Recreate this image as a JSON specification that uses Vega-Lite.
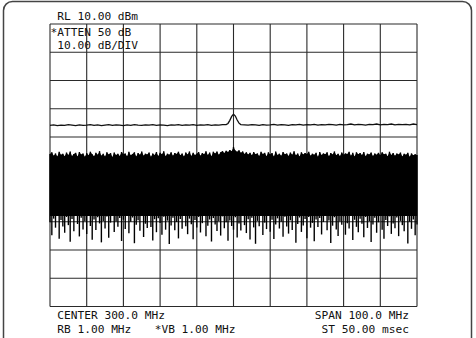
{
"$schema":"https://vega.github.io/schema/vega-lite/v6.json",
"width":476,"height":338,
"autosize":{"type":"none"},
"padding":0,
"background":"white",
"config":{"view":{"stroke":null},"axis":{"disable":true}},
"datasets":{
"vgrid":[{"f":250},{"f":260},{"f":270},{"f":280},{"f":290},{"f":300},{"f":310},{"f":320},{"f":330},{"f":340},{"f":350}],
"hgrid":[{"d":10},{"d":0},{"d":-10},{"d":-20},{"d":-30},{"d":-40},{"d":-50},{"d":-60},{"d":-70},{"d":-80},{"d":-90}],
"trace":[
{"f":250,"d":-25.9},{"f":251,"d":-25.7},{"f":252,"d":-26.0},{"f":253,"d":-25.8},{"f":254,"d":-25.9},{"f":255,"d":-25.6},{"f":256,"d":-25.8},{"f":257,"d":-26.0},{"f":258,"d":-25.7},{"f":259,"d":-25.9},
{"f":260,"d":-25.8},{"f":261,"d":-25.6},{"f":262,"d":-25.9},{"f":263,"d":-25.7},{"f":264,"d":-26.0},{"f":265,"d":-25.8},{"f":266,"d":-25.6},{"f":267,"d":-25.9},{"f":268,"d":-25.7},{"f":269,"d":-25.8},
{"f":270,"d":-26.0},{"f":271,"d":-25.7},{"f":272,"d":-25.9},{"f":273,"d":-25.6},{"f":274,"d":-25.8},{"f":275,"d":-25.9},{"f":276,"d":-25.7},{"f":277,"d":-25.8},{"f":278,"d":-25.6},{"f":279,"d":-25.9},
{"f":280,"d":-25.7},{"f":281,"d":-25.8},{"f":282,"d":-26.0},{"f":283,"d":-25.7},{"f":284,"d":-25.8},{"f":285,"d":-25.6},{"f":286,"d":-25.9},{"f":287,"d":-25.7},{"f":288,"d":-25.8},{"f":289,"d":-25.6},
{"f":290,"d":-25.9},{"f":291,"d":-25.7},{"f":292,"d":-25.8},{"f":293,"d":-25.6},{"f":294,"d":-25.9},{"f":295,"d":-25.7},{"f":296,"d":-25.8},{"f":297,"d":-25.6},{"f":298,"d":-25.6},{"f":298.5,"d":-25.2},
{"f":299,"d":-24.1},{"f":299.5,"d":-22.7},{"f":300,"d":-21.9},{"f":300.5,"d":-22.6},{"f":301,"d":-24.0},{"f":301.5,"d":-25.1},{"f":302,"d":-25.6},{"f":303,"d":-25.7},{"f":304,"d":-25.8},{"f":305,"d":-25.6},
{"f":306,"d":-25.7},{"f":307,"d":-25.9},{"f":308,"d":-25.6},{"f":309,"d":-25.8},{"f":310,"d":-25.7},{"f":311,"d":-25.5},{"f":312,"d":-25.8},{"f":313,"d":-25.6},{"f":314,"d":-25.7},{"f":315,"d":-25.9},
{"f":316,"d":-25.6},{"f":317,"d":-25.7},{"f":318,"d":-25.5},{"f":319,"d":-25.8},{"f":320,"d":-25.6},{"f":321,"d":-25.7},{"f":322,"d":-25.5},{"f":323,"d":-25.8},{"f":324,"d":-25.6},{"f":325,"d":-25.7},
{"f":326,"d":-25.5},{"f":327,"d":-25.6},{"f":328,"d":-25.8},{"f":329,"d":-25.5},{"f":330,"d":-25.7},{"f":331,"d":-25.6},{"f":332,"d":-25.4},{"f":333,"d":-25.7},{"f":334,"d":-25.5},{"f":335,"d":-25.6},
{"f":336,"d":-25.8},{"f":337,"d":-25.5},{"f":338,"d":-25.6},{"f":339,"d":-25.4},{"f":340,"d":-25.7},{"f":341,"d":-25.5},{"f":342,"d":-25.6},{"f":343,"d":-25.4},{"f":344,"d":-25.7},{"f":345,"d":-25.5},
{"f":346,"d":-25.6},{"f":347,"d":-25.5},{"f":348,"d":-25.7},{"f":349,"d":-25.4},{"f":350,"d":-25.6}
],
"noise":[
{"f":250,"h":-36.0,"l":-60.2},{"f":250.5,"h":-35.4,"l":-64.8},{"f":251,"h":-36.6,"l":-58.9},{"f":251.5,"h":-35.8,"l":-62.1},{"f":252,"h":-36.9,"l":-57.6},{"f":252.5,"h":-35.2,"l":-66.0},{"f":253,"h":-36.3,"l":-59.4},{"f":253.5,"h":-35.9,"l":-61.7},{"f":254,"h":-36.8,"l":-63.9},{"f":254.5,"h":-35.5,"l":-58.3},
{"f":255,"h":-36.4,"l":-61.2},{"f":255.5,"h":-35.1,"l":-67.1},{"f":256,"h":-36.7,"l":-59.0},{"f":256.5,"h":-36.0,"l":-63.4},{"f":257,"h":-35.6,"l":-57.9},{"f":257.5,"h":-36.9,"l":-60.8},{"f":258,"h":-35.3,"l":-65.2},{"f":258.5,"h":-36.2,"l":-58.6},{"f":259,"h":-35.8,"l":-62.7},{"f":259.5,"h":-37.0,"l":-59.8},
{"f":260,"h":-35.7,"l":-64.3},{"f":260.5,"h":-36.5,"l":-57.8},{"f":261,"h":-35.2,"l":-61.5},{"f":261.5,"h":-36.1,"l":-66.4},{"f":262,"h":-36.8,"l":-59.2},{"f":262.5,"h":-35.6,"l":-62.9},{"f":263,"h":-36.3,"l":-58.4},{"f":263.5,"h":-35.0,"l":-60.6},{"f":264,"h":-36.6,"l":-67.3},{"f":264.5,"h":-35.9,"l":-59.7},
{"f":265,"h":-36.9,"l":-62.4},{"f":265.5,"h":-35.4,"l":-58.1},{"f":266,"h":-36.2,"l":-65.7},{"f":266.5,"h":-35.7,"l":-60.3},{"f":267,"h":-37.1,"l":-57.5},{"f":267.5,"h":-35.5,"l":-63.6},{"f":268,"h":-36.4,"l":-59.9},{"f":268.5,"h":-35.9,"l":-61.8},{"f":269,"h":-36.7,"l":-58.7},{"f":269.5,"h":-35.3,"l":-66.8},
{"f":270,"h":-36.1,"l":-59.3},{"f":270.5,"h":-35.8,"l":-62.6},{"f":271,"h":-36.8,"l":-57.7},{"f":271.5,"h":-35.2,"l":-64.1},{"f":272,"h":-36.5,"l":-60.0},{"f":272.5,"h":-36.0,"l":-58.5},{"f":273,"h":-35.4,"l":-67.6},{"f":273.5,"h":-36.9,"l":-61.1},{"f":274,"h":-35.7,"l":-59.5},{"f":274.5,"h":-36.3,"l":-63.2},
{"f":275,"h":-35.1,"l":-58.0},{"f":275.5,"h":-36.6,"l":-65.4},{"f":276,"h":-35.9,"l":-60.7},{"f":276.5,"h":-36.2,"l":-62.2},{"f":277,"h":-35.5,"l":-57.4},{"f":277.5,"h":-37.0,"l":-61.9},{"f":278,"h":-35.8,"l":-66.6},{"f":278.5,"h":-36.4,"l":-59.1},{"f":279,"h":-35.3,"l":-63.7},{"f":279.5,"h":-36.7,"l":-58.8},
{"f":280,"h":-35.6,"l":-60.4},{"f":280.5,"h":-36.1,"l":-64.6},{"f":281,"h":-35.0,"l":-58.2},{"f":281.5,"h":-36.8,"l":-62.8},{"f":282,"h":-35.9,"l":-59.6},{"f":282.5,"h":-36.3,"l":-67.9},{"f":283,"h":-35.4,"l":-61.3},{"f":283.5,"h":-36.6,"l":-58.6},{"f":284,"h":-35.7,"l":-63.0},{"f":284.5,"h":-36.0,"l":-60.1},
{"f":285,"h":-35.2,"l":-65.9},{"f":285.5,"h":-36.5,"l":-59.0},{"f":286,"h":-35.8,"l":-62.5},{"f":286.5,"h":-36.9,"l":-57.8},{"f":287,"h":-35.5,"l":-61.6},{"f":287.5,"h":-36.2,"l":-64.4},{"f":288,"h":-35.1,"l":-58.9},{"f":288.5,"h":-36.7,"l":-60.9},{"f":289,"h":-35.6,"l":-66.2},{"f":289.5,"h":-36.4,"l":-59.4},
{"f":290,"h":-35.9,"l":-62.0},{"f":290.5,"h":-35.3,"l":-58.3},{"f":291,"h":-36.6,"l":-63.8},{"f":291.5,"h":-35.7,"l":-60.5},{"f":292,"h":-36.1,"l":-57.6},{"f":292.5,"h":-35.0,"l":-65.1},{"f":293,"h":-36.4,"l":-61.4},{"f":293.5,"h":-35.5,"l":-59.2},{"f":294,"h":-36.8,"l":-67.0},{"f":294.5,"h":-35.2,"l":-58.7},
{"f":295,"h":-35.8,"l":-61.0},{"f":295.5,"h":-35.1,"l":-63.3},{"f":296,"h":-36.3,"l":-59.8},{"f":296.5,"h":-35.4,"l":-64.9},{"f":297,"h":-35.0,"l":-58.1},{"f":297.5,"h":-35.7,"l":-62.3},{"f":298,"h":-34.9,"l":-60.2},{"f":298.5,"h":-35.3,"l":-66.7},{"f":299,"h":-34.6,"l":-59.6},{"f":299.5,"h":-35.0,"l":-61.5},
{"f":300,"h":-33.5,"l":-62.8},{"f":300.5,"h":-34.8,"l":-58.4},{"f":301,"h":-35.2,"l":-65.6},{"f":301.5,"h":-34.7,"l":-60.6},{"f":302,"h":-35.6,"l":-63.1},{"f":302.5,"h":-35.1,"l":-57.9},{"f":303,"h":-36.0,"l":-61.2},{"f":303.5,"h":-35.4,"l":-64.0},{"f":304,"h":-36.2,"l":-59.1},{"f":304.5,"h":-35.6,"l":-66.3},
{"f":305,"h":-36.5,"l":-58.6},{"f":305.5,"h":-35.3,"l":-62.0},{"f":306,"h":-36.1,"l":-67.8},{"f":306.5,"h":-35.8,"l":-59.7},{"f":307,"h":-36.7,"l":-61.6},{"f":307.5,"h":-35.2,"l":-58.0},{"f":308,"h":-36.0,"l":-64.7},{"f":308.5,"h":-35.6,"l":-60.3},{"f":309,"h":-36.8,"l":-62.6},{"f":309.5,"h":-35.4,"l":-57.5},
{"f":310,"h":-36.2,"l":-63.5},{"f":310.5,"h":-35.7,"l":-59.3},{"f":311,"h":-36.9,"l":-66.1},{"f":311.5,"h":-35.1,"l":-61.0},{"f":312,"h":-36.4,"l":-58.8},{"f":312.5,"h":-35.9,"l":-62.4},{"f":313,"h":-36.6,"l":-60.0},{"f":313.5,"h":-35.3,"l":-65.3},{"f":314,"h":-36.1,"l":-58.2},{"f":314.5,"h":-35.8,"l":-61.7},
{"f":315,"h":-36.7,"l":-64.2},{"f":315.5,"h":-35.5,"l":-59.5},{"f":316,"h":-36.3,"l":-62.9},{"f":316.5,"h":-35.0,"l":-57.7},{"f":317,"h":-36.5,"l":-67.4},{"f":317.5,"h":-35.8,"l":-60.8},{"f":318,"h":-36.9,"l":-58.5},{"f":318.5,"h":-35.4,"l":-63.6},{"f":319,"h":-36.2,"l":-61.3},{"f":319.5,"h":-35.7,"l":-59.0},
{"f":320,"h":-36.0,"l":-65.8},{"f":320.5,"h":-35.2,"l":-58.3},{"f":321,"h":-36.6,"l":-62.1},{"f":321.5,"h":-35.9,"l":-60.4},{"f":322,"h":-36.3,"l":-66.9},{"f":322.5,"h":-35.6,"l":-59.2},{"f":323,"h":-37.0,"l":-61.9},{"f":323.5,"h":-35.3,"l":-58.7},{"f":324,"h":-36.4,"l":-64.5},{"f":324.5,"h":-35.8,"l":-60.1},
{"f":325,"h":-36.1,"l":-57.8},{"f":325.5,"h":-35.4,"l":-63.0},{"f":326,"h":-36.8,"l":-59.6},{"f":326.5,"h":-35.7,"l":-67.5},{"f":327,"h":-36.2,"l":-61.4},{"f":327.5,"h":-35.1,"l":-58.4},{"f":328,"h":-36.5,"l":-62.7},{"f":328.5,"h":-35.9,"l":-65.0},{"f":329,"h":-36.7,"l":-59.9},{"f":329.5,"h":-35.5,"l":-61.1},
{"f":330,"h":-36.3,"l":-58.1},{"f":330.5,"h":-35.8,"l":-64.6},{"f":331,"h":-36.0,"l":-60.5},{"f":331.5,"h":-35.2,"l":-62.4},{"f":332,"h":-36.6,"l":-57.6},{"f":332.5,"h":-35.6,"l":-66.5},{"f":333,"h":-36.9,"l":-59.3},{"f":333.5,"h":-35.4,"l":-61.8},{"f":334,"h":-36.1,"l":-63.7},{"f":334.5,"h":-35.7,"l":-58.9},
{"f":335,"h":-36.4,"l":-60.7},{"f":335.5,"h":-35.3,"l":-65.5},{"f":336,"h":-36.8,"l":-58.3},{"f":336.5,"h":-35.9,"l":-62.2},{"f":337,"h":-36.2,"l":-59.8},{"f":337.5,"h":-35.5,"l":-67.2},{"f":338,"h":-36.7,"l":-61.0},{"f":338.5,"h":-35.8,"l":-58.6},{"f":339,"h":-36.3,"l":-63.9},{"f":339.5,"h":-35.6,"l":-60.2},
{"f":340,"h":-36.5,"l":-57.9},{"f":340.5,"h":-35.4,"l":-62.8},{"f":341,"h":-36.1,"l":-66.0},{"f":341.5,"h":-35.9,"l":-59.4},{"f":342,"h":-36.8,"l":-61.5},{"f":342.5,"h":-35.2,"l":-58.1},{"f":343,"h":-36.4,"l":-64.3},{"f":343.5,"h":-35.7,"l":-60.6},{"f":344,"h":-36.6,"l":-62.3},{"f":344.5,"h":-35.8,"l":-58.5},
{"f":345,"h":-36.2,"l":-65.1},{"f":345.5,"h":-35.5,"l":-59.7},{"f":346,"h":-36.9,"l":-61.2},{"f":346.5,"h":-35.9,"l":-63.4},{"f":347,"h":-36.3,"l":-58.0},{"f":347.5,"h":-35.6,"l":-67.7},{"f":348,"h":-37.0,"l":-60.0},{"f":348.5,"h":-35.8,"l":-62.5},{"f":349,"h":-36.5,"l":-59.2},{"f":349.5,"h":-36.1,"l":-64.8},
{"f":350,"h":-36.4,"l":-61.0}
]
},
"layer":[
{"data":{"values":[{}]},
 "mark":{"type":"rect","clip":true,"cornerRadiusTopLeft":9,"cornerRadiusTopRight":9,"cornerRadiusBottomLeft":0,"cornerRadiusBottomRight":0,"fill":"transparent","stroke":"#444","strokeWidth":1.5},
 "encoding":{
  "x":{"datum":237.33,"type":"quantitative","scale":{"domain":[236.376,366.076],"nice":false,"zero":false},"axis":null},
  "x2":{"datum":364.85},
  "y":{"datum":17.965,"type":"quantitative","scale":{"domain":[-101.15,18.496],"nice":false,"zero":false},"axis":null},
  "y2":{"datum":-115}}},
{"data":{"name":"vgrid"},
 "mark":{"type":"rule","color":"#2a2a2a","strokeWidth":1.1},
 "encoding":{
  "x":{"field":"f","type":"quantitative","scale":{"domain":[236.376,366.076],"nice":false,"zero":false},"axis":null},
  "y":{"datum":10,"type":"quantitative","scale":{"domain":[-101.15,18.496],"nice":false,"zero":false},"axis":null},
  "y2":{"datum":-90}}},
{"data":{"name":"hgrid"},
 "mark":{"type":"rule","color":"#2a2a2a","strokeWidth":1.1},
 "encoding":{
  "y":{"field":"d","type":"quantitative","scale":{"domain":[-101.15,18.496],"nice":false,"zero":false},"axis":null},
  "x":{"datum":250,"type":"quantitative","scale":{"domain":[236.376,366.076],"nice":false,"zero":false},"axis":null},
  "x2":{"datum":350}}},
{"data":{"name":"trace"},
 "mark":{"type":"line","color":"#111","strokeWidth":1.3},
 "encoding":{
  "x":{"field":"f","type":"quantitative","scale":{"domain":[236.376,366.076],"nice":false,"zero":false},"axis":null},
  "y":{"field":"d","type":"quantitative","scale":{"domain":[-101.15,18.496],"nice":false,"zero":false},"axis":null}}},
{"data":{"name":"noise"},
 "mark":{"type":"area","color":"#000","opacity":1},
 "encoding":{
  "x":{"field":"f","type":"quantitative","scale":{"domain":[236.376,366.076],"nice":false,"zero":false},"axis":null},
  "y":{"field":"h","type":"quantitative","scale":{"domain":[-101.15,18.496],"nice":false,"zero":false},"axis":null},
  "y2":{"datum":-58.0}}},
{"data":{"name":"noise"},
 "mark":{"type":"rule","color":"#000","strokeWidth":1.4},
 "encoding":{
  "x":{"field":"f","type":"quantitative","scale":{"domain":[236.376,366.076],"nice":false,"zero":false},"axis":null},
  "y":{"field":"h","type":"quantitative","scale":{"domain":[-101.15,18.496],"nice":false,"zero":false},"axis":null},
  "y2":{"field":"l"}}},
{"data":{"values":[{}]},
 "mark":{"type":"text","text":"RL 10.00 dBm","align":"left","baseline":"alphabetic","font":"DejaVu Sans Mono","fontSize":11.2,"color":"#111"},
 "encoding":{
  "x":{"datum":251.976,"type":"quantitative","scale":{"domain":[236.376,366.076],"nice":false,"zero":false},"axis":null},
  "y":{"datum":11.593,"type":"quantitative","scale":{"domain":[-101.15,18.496],"nice":false,"zero":false},"axis":null}}},
{"data":{"values":[{}]},
 "mark":{"type":"text","text":"*ATTEN 50 dB","align":"left","baseline":"alphabetic","font":"DejaVu Sans Mono","fontSize":11.2,"color":"#111"},
 "encoding":{
  "x":{"datum":250.136,"type":"quantitative","scale":{"domain":[236.376,366.076],"nice":false,"zero":false},"axis":null},
  "y":{"datum":5.753,"type":"quantitative","scale":{"domain":[-101.15,18.496],"nice":false,"zero":false},"axis":null}}},
{"data":{"values":[{}]},
 "mark":{"type":"text","text":"10.00 dB/DIV","align":"left","baseline":"alphabetic","font":"DejaVu Sans Mono","fontSize":11.2,"color":"#111"},
 "encoding":{
  "x":{"datum":251.976,"type":"quantitative","scale":{"domain":[236.376,366.076],"nice":false,"zero":false},"axis":null},
  "y":{"datum":0.974,"type":"quantitative","scale":{"domain":[-101.15,18.496],"nice":false,"zero":false},"axis":null}}},
{"data":{"values":[{}]},
 "mark":{"type":"text","text":"CENTER 300.0 MHz","align":"left","baseline":"alphabetic","font":"DejaVu Sans Mono","fontSize":11.2,"color":"#111"},
 "encoding":{
  "x":{"datum":251.976,"type":"quantitative","scale":{"domain":[236.376,366.076],"nice":false,"zero":false},"axis":null},
  "y":{"datum":-94.248,"type":"quantitative","scale":{"domain":[-101.15,18.496],"nice":false,"zero":false},"axis":null}}},
{"data":{"values":[{}]},
 "mark":{"type":"text","text":"RB 1.00 MHz","align":"left","baseline":"alphabetic","font":"DejaVu Sans Mono","fontSize":11.2,"color":"#111"},
 "encoding":{
  "x":{"datum":251.976,"type":"quantitative","scale":{"domain":[236.376,366.076],"nice":false,"zero":false},"axis":null},
  "y":{"datum":-99.381,"type":"quantitative","scale":{"domain":[-101.15,18.496],"nice":false,"zero":false},"axis":null}}},
{"data":{"values":[{}]},
 "mark":{"type":"text","text":"*VB 1.00 MHz","align":"right","baseline":"alphabetic","font":"DejaVu Sans Mono","fontSize":11.2,"color":"#111"},
 "encoding":{
  "x":{"datum":300.54,"type":"quantitative","scale":{"domain":[236.376,366.076],"nice":false,"zero":false},"axis":null},
  "y":{"datum":-99.381,"type":"quantitative","scale":{"domain":[-101.15,18.496],"nice":false,"zero":false},"axis":null}}},
{"data":{"values":[{}]},
 "mark":{"type":"text","text":"SPAN 100.0 MHz","align":"right","baseline":"alphabetic","font":"DejaVu Sans Mono","fontSize":11.2,"color":"#111"},
 "encoding":{
  "x":{"datum":347.82,"type":"quantitative","scale":{"domain":[236.376,366.076],"nice":false,"zero":false},"axis":null},
  "y":{"datum":-94.248,"type":"quantitative","scale":{"domain":[-101.15,18.496],"nice":false,"zero":false},"axis":null}}},
{"data":{"values":[{}]},
 "mark":{"type":"text","text":"ST 50.00 msec","align":"right","baseline":"alphabetic","font":"DejaVu Sans Mono","fontSize":11.2,"color":"#111"},
 "encoding":{
  "x":{"datum":347.82,"type":"quantitative","scale":{"domain":[236.376,366.076],"nice":false,"zero":false},"axis":null},
  "y":{"datum":-99.381,"type":"quantitative","scale":{"domain":[-101.15,18.496],"nice":false,"zero":false},"axis":null}}}
]
}
